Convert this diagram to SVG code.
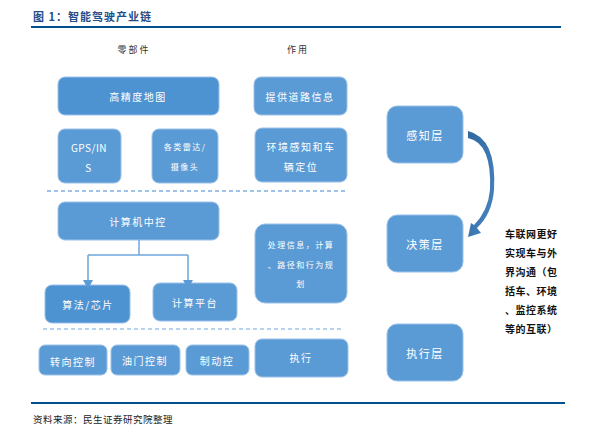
<svg xmlns="http://www.w3.org/2000/svg" width="595" height="436" viewBox="0 0 595 436">
<style>
.box{fill:#5b9bd5;stroke:#9cc2e8;stroke-width:1}
.dark{fill:#4d93d2}
.t{font-family:"Noto Sans CJK SC","Liberation Sans",sans-serif;fill:#ffffff;text-anchor:middle;dominant-baseline:central;font-size:10px;letter-spacing:1.5px}
.s{font-size:8px;letter-spacing:1.5px}
.hd{font-family:"Noto Sans CJK SC",sans-serif;fill:#333333;font-size:9px;letter-spacing:2px;text-anchor:middle}
.side{font-family:"Noto Sans CJK SC",sans-serif;fill:#111111;font-size:10px;font-weight:bold;letter-spacing:0.5px}
.conn{fill:none;stroke:#6fa6da;stroke-width:1.5}
</style>
<defs>
<marker id="ah" viewBox="0 0 10 10" refX="5" refY="9" markerWidth="9" markerHeight="9" markerUnits="userSpaceOnUse" orient="auto-start-reverse">
<path d="M0,0 L10,0 L5,10 Z" fill="#5b9bd5"/>
</marker>
<linearGradient id="g" x1="0" y1="0" x2="1" y2="1">
<stop offset="0" stop-color="#2f679e"/>
<stop offset="1" stop-color="#4a86c3"/>
</linearGradient>
</defs>
<rect width="595" height="436" fill="#ffffff"/>
<text x="33" y="21" font-family="Noto Sans CJK SC,sans-serif" font-size="11" font-weight="bold" fill="#1f4e89" letter-spacing="1">图 1：智能驾驶产业链</text>
<line x1="31" y1="27" x2="561" y2="27" stroke="#00508f" stroke-width="2"/>
<text class="hd" x="134" y="53">零部件</text>
<text class="hd" x="298" y="53">作用</text>

<line x1="47" y1="191" x2="345" y2="191" stroke="#9dc3e6" stroke-width="2" stroke-dasharray="4,3"/>
<line x1="43" y1="329" x2="342" y2="329" stroke="#6fa6da" stroke-width="1" stroke-dasharray="4,3"/>

<g id="n1"><rect class="box dark" x="58" y="77" width="161" height="38" rx="7"/><text class="t" x="138" y="96">高精度地图</text></g>
<g id="n2"><rect class="box" x="254" y="77" width="93" height="38" rx="7"/><text class="t" x="300" y="96">提供道路信息</text></g>
<g id="n3"><rect class="box" x="58" y="129" width="63" height="54" rx="7"/><text class="t" x="89" y="147" style="letter-spacing:0.5px">GPS/IN</text><text class="t" x="89" y="167">S</text></g>
<g id="n4"><rect class="box" x="152" y="129" width="66" height="54" rx="7"/><text class="t s" x="185" y="146">各类雷达/</text><text class="t s" x="185" y="166">摄像头</text></g>
<g id="n5"><rect class="box" x="255" y="128" width="92" height="54" rx="7"/><text class="t" x="301" y="146">环境感知和车</text><text class="t" x="301" y="166">辆定位</text></g>
<g id="n6"><rect class="box" x="58" y="202" width="161" height="38" rx="7"/><text class="t" x="138" y="221">计算机中控</text></g>
<g id="n7"><rect class="box" x="255" y="224" width="92" height="79" rx="10"/><text class="t s" x="301" y="244">处理信息，计算</text><text class="t s" x="301" y="264">、路径和行为规</text><text class="t s" x="301" y="283">划</text></g>
<g id="n8"><rect class="box dark" x="45" y="285" width="85" height="38" rx="7"/><text class="t" x="88" y="304">算法/芯片</text></g>
<g id="n9"><rect class="box" x="153" y="283" width="84" height="38" rx="7"/><text class="t" x="195" y="302">计算平台</text></g>
<g id="n10"><rect class="box" x="39" y="345" width="68" height="30" rx="6"/><text class="t" x="73" y="361">转向控制</text></g>
<g id="n11"><rect class="box" x="111" y="345" width="69" height="30" rx="6"/><text class="t" x="145" y="360">油门控制</text></g>
<g id="n12"><rect class="box" x="186" y="345" width="63" height="30" rx="6"/><text class="t" x="217" y="360">制动控</text></g>
<g id="n13"><rect class="box" x="255" y="339" width="93" height="38" rx="7"/><text class="t" x="301" y="357">执行</text></g>
<g id="n14"><rect class="box" x="387" y="106" width="76" height="57" rx="10"/><text class="t" x="425" y="135" style="font-size:11px">感知层</text></g>
<g id="n15"><rect class="box" x="387" y="215" width="76" height="57" rx="10"/><text class="t" x="425" y="244" style="font-size:11px">决策层</text></g>
<g id="n16"><rect class="box" x="387" y="324" width="76" height="57" rx="10"/><text class="t" x="425" y="353" style="font-size:11px">执行层</text></g>

<g id="connectors">
<path class="conn" d="M139,240 V255 M88,255 H188 M88,255 V282 M188,255 V282" />
<path d="M83,280 L93,280 L88,289 Z M183,280 L193,280 L188,289 Z" fill="#5b9bd5"/>
<path d="M468,131 Q497,138 494,190 Q492,214 477,228 L481,233 L468,237 L471,223 L474,225 Q488,211 490,190 Q492,143 468,138 Z" fill="url(#g)"/>
</g>

<text class="side" x="505" y="238">车联网更好</text>
<text class="side" x="505" y="257">实现车与外</text>
<text class="side" x="505" y="276">界沟通（包</text>
<text class="side" x="505" y="295">括车、环境</text>
<text class="side" x="505" y="314">、监控系统</text>
<text class="side" x="505" y="333">等的互联）</text>

<line x1="31" y1="403" x2="565" y2="403" stroke="#00508f" stroke-width="2"/>
<text x="33" y="423" font-family="Noto Sans CJK SC,sans-serif" font-size="9.5" fill="#222222" letter-spacing="0.5">资料来源：民生证券研究院整理</text>
</svg>
